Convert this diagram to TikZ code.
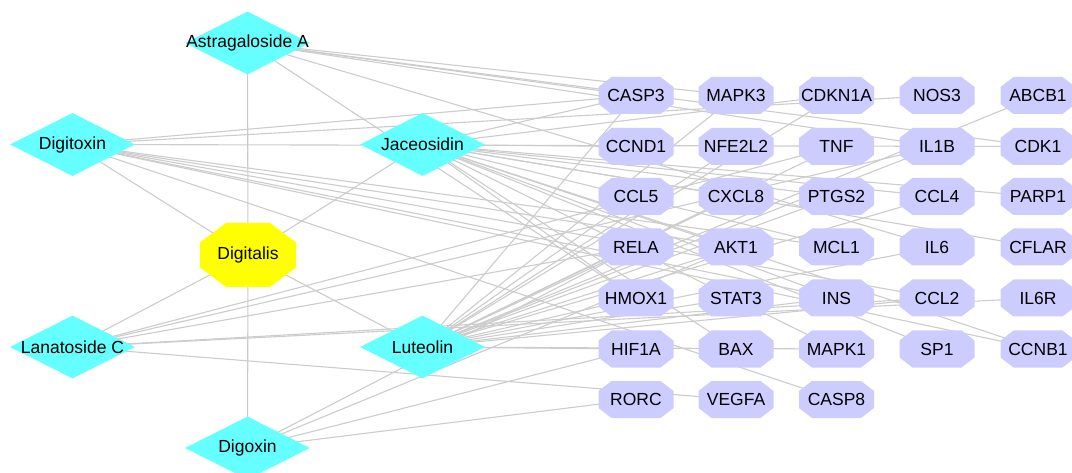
\documentclass[tikz,border=0pt]{standalone}
\usepackage{fontspec}
\setmainfont{Liberation Sans}
\usetikzlibrary{shapes.geometric}
\pgfdeclarelayer{bg}
\pgfdeclarelayer{edges}
\pgfsetlayers{bg,edges,main}
\definecolor{compc}{RGB}{102,255,255}
\definecolor{targc}{RGB}{204,204,255}
\definecolor{herbc}{RGB}{255,255,0}
\definecolor{edgec}{RGB}{204,204,204}
\tikzset{
  lbl/.style={font=\fontsize{17.5}{20}\selectfont, text=black, inner sep=0pt},
  comp/.style={diamond, fill=compc, draw=none, inner sep=0pt, minimum width=125pt, minimum height=63pt, label={[lbl]center:#1}},
  targbox/.style={rectangle, draw=none, inner sep=0pt, minimum width=75pt, minimum height=37pt},
  herbbox/.style={rectangle, draw=none, inner sep=0pt, minimum width=96pt, minimum height=64pt},
  edge/.style={draw=edgec, line width=1.1pt}
}
% octagon fill: node, colour, half width, half height, chamfer x, chamfer y
\newcommand\octfill[6]{%
  \fill[#2] ([shift={({-#3+#5},-#4)}]#1.center) -- ([shift={({#3-#5},-#4)}]#1.center)
   -- ([shift={(#3,{-#4+#6})}]#1.center) -- ([shift={(#3,{#4-#6})}]#1.center)
   -- ([shift={({#3-#5},#4)}]#1.center) -- ([shift={({-#3+#5},#4)}]#1.center)
   -- ([shift={(-#3,{#4-#6})}]#1.center) -- ([shift={(-#3,{-#4+#6})}]#1.center) -- cycle;}
\begin{document}
\begin{tikzpicture}[x=1pt,y=-1pt]
\useasboundingbox (0,0) rectangle (1072,473);
\begin{pgfonlayer}{bg}
\fill[white] (0,0) rectangle (1072,473);
\end{pgfonlayer}
% compounds
\node[comp={Astragaloside A}] (astr) at (247.5,43) {};
\node[comp={Digitoxin}] (dtox) at (72.5,144.5) {};
\node[comp={Jaceosidin}] (jace) at (422.5,144.5) {};
\node[comp={Lanatoside C}] (lana) at (72.5,347) {};
\node[comp={Luteolin}] (lute) at (422.5,347) {};
\node[comp={Digoxin}] (dgox) at (247.5,448) {};
\node[herbbox] (digi) at (248,255) {};
\octfill{digi}{herbc}{48}{32}{26}{19.5}
\node[lbl] at (digi) {Digitalis};
% targets
\foreach \n/\t/\x/\y in {
 casp3/CASP3/636/95.5, mapk3/MAPK3/736/95.5, cdkn1a/CDKN1A/836.5/95.5, nos3/NOS3/937/95.5, abcb1/ABCB1/1038/95.5,
 ccnd1/CCND1/636/146.5, nfe2l2/NFE2L2/736/146.5, tnf/TNF/836.5/146.5, il1b/IL1B/937/146.5, cdk1/CDK1/1038/146.5,
 ccl5/CCL5/636/196.5, cxcl8/CXCL8/736/196.5, ptgs2/PTGS2/836.5/196.5, ccl4/CCL4/937/196.5, parp1/PARP1/1038/196.5,
 rela/RELA/636/247, akt1/AKT1/736/247, mcl1/MCL1/836.5/247, il6/IL6/937/247, cflar/CFLAR/1038/247,
 hmox1/HMOX1/636/298, stat3/STAT3/736/298, ins/INS/836.5/298, ccl2/CCL2/937/298, il6r/IL6R/1038/298,
 hif1a/HIF1A/636/349, bax/BAX/736/349, mapk1/MAPK1/836.5/349, sp1/SP1/937/349, ccnb1/CCNB1/1038/349,
 rorc/RORC/636/399.5, vegfa/VEGFA/736/399.5, casp8/CASP8/836.5/399.5}
 {\node[targbox] (\n) at (\x,\y) {};
  \octfill{\n}{targc}{37.5}{18.5}{13}{10}
  \node[lbl] at (\n) {\t};}
% edges
\begin{pgfonlayer}{edges}
\foreach \s/\t in {
 digi/astr, digi/dtox, digi/jace, digi/lana, digi/lute, digi/dgox,
 astr/casp3, astr/mapk3, astr/il1b, astr/cdk1, astr/il6, astr/hmox1,
 dtox/casp3, dtox/nos3, dtox/cdk1, dtox/mcl1, dtox/akt1, dtox/ccl2, dtox/ins, dtox/ccnb1, dtox/casp8,
 jace/casp3, jace/cdkn1a, jace/ccnd1, jace/parp1, jace/ccl4, jace/cxcl8, jace/cflar, jace/mcl1, jace/akt1, jace/ins, jace/sp1, jace/mapk1, jace/ccnb1, jace/bax, jace/hmox1, jace/ptgs2,
 lute/abcb1, lute/mapk3, lute/cdkn1a, lute/nfe2l2, lute/tnf, lute/il1b, lute/ccl5, lute/cxcl8, lute/ptgs2, lute/rela, lute/akt1, lute/il6, lute/hmox1, lute/stat3, lute/ins, lute/ccl2, lute/hif1a, lute/mapk1, lute/casp3, lute/ccl4,
 lana/tnf, lana/il1b, lana/rela, lana/ccl2, lana/il6r, lana/vegfa,
 dgox/rela, dgox/akt1, dgox/hif1a, dgox/rorc}
 \draw[edge] (\s.center) -- (\t.center);
\end{pgfonlayer}
\end{tikzpicture}
\end{document}
